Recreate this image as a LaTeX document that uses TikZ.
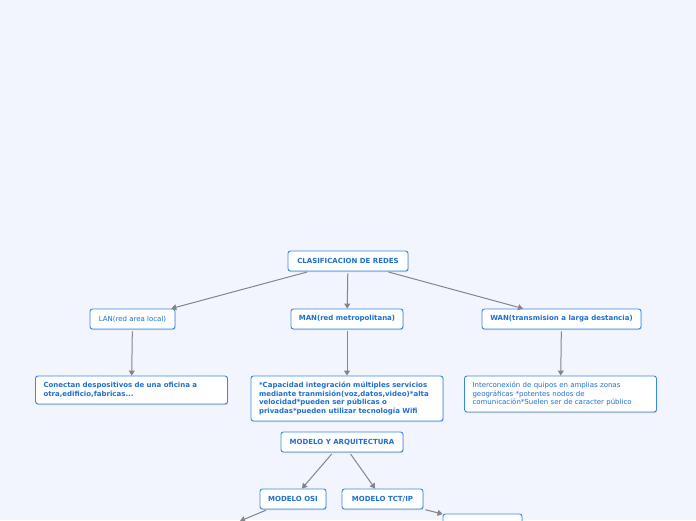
\documentclass[tikz,border=0pt]{standalone}
\usepackage{fontspec}
\setmainfont{DejaVu Sans}
\usetikzlibrary{positioning,arrows.meta,shadows}
\definecolor{bgblue}{HTML}{F2F5FE}
\definecolor{boxline}{HTML}{3A88E2}
\definecolor{boxtext}{HTML}{1E6FD0}
\definecolor{linkgray}{HTML}{858585}

\begin{document}
\begin{tikzpicture}[x=1pt,y=-1pt,>={Triangle[length=5pt,width=6pt]},
  box/.style={draw=boxline,fill=white,rounded corners=2.5pt,line width=0.9pt,text=boxtext,
    inner xsep=6pt,inner ysep=5pt,minimum height=20pt,
    drop shadow={shadow xshift=0.6pt,shadow yshift=-1pt,fill=black!40,opacity=0.4},
    font=\fontsize{7}{8.7}\selectfont\bfseries},
  note/.style={box,align=left,text width=176pt,inner xsep=8pt},
  plain/.style={font=\fontsize{7}{8.7}\selectfont\mdseries},
  link/.style={->,draw=linkgray,line width=1pt,shorten <=2pt}]
  \fill[bgblue] (0,0) rectangle (696,520);
  \useasboundingbox (0,0) rectangle (696,520);

  \node[box,minimum width=120pt] (clas) at (348,261) {CLASIFICACION DE REDES};
  \node[box,plain,minimum width=85pt] (lan) at (132.5,319) {LAN(red area local)};
  \node[box,minimum width=112pt] (man) at (347,319) {MAN(red metropolitana)};
  \node[box,minimum width=159pt] (wan) at (561.5,319) {WAN(transmision a larga destancia)};

  \node[note,minimum height=28pt] (landef) at (131.5,390)
    {Conectan despositivos de una oficina a\\otra,edificio,fabricas...};
  \node[note,minimum height=45pt] (mandef) at (347,398.5)
    {*Capacidad integración múltiples servicios\\mediante tranmisión(voz,datos,video)*alta\\velocidad*pueden ser públicas o\\privadas*pueden utilizar tecnología Wifi};
  \node[note,plain,minimum height=36pt] (wandef) at (560.5,394)
    {Interconexión de quipos en amplias zonas\\geográficas *potentes nodos de\\comunicación*Suelen ser de caracter público};

  \node[box,minimum width=122pt] (arq) at (342,442) {MODELO Y ARQUITECTURA};
  \node[box,minimum width=66pt] (osi) at (293,499) {MODELO OSI};
  \node[box,minimum width=81pt] (tcp) at (382.5,499) {MODELO TCT/IP};
  \node[box,minimum width=79pt] (tcpsub) at (482.5,524) {};
  \coordinate (osisub) at (240,521);

  \draw[link] (clas) -- (lan);
  \draw[link] (clas) -- (man);
  \draw[link] (clas) -- (wan);
  \draw[link] (lan) -- (landef);
  \draw[link] (man) -- (mandef);
  \draw[link] (wan) -- (wandef);
  \draw[link] (arq) -- (osi);
  \draw[link] (arq) -- (tcp);
  \draw[link] (osi) -- (osisub);
  \draw[link] (tcp) -- (tcpsub);
\end{tikzpicture}
\end{document}
